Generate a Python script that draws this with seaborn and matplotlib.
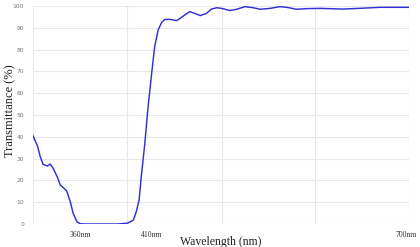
import numpy as np
import pandas as pd
import matplotlib
matplotlib.use("Agg")
import matplotlib.pyplot as plt
import seaborn as sns

# ---- data ----
wavelength_nm = [327, 330, 332, 334, 337, 339, 341, 344, 346, 348, 350.5, 353, 355,
                 357.5, 360, 364, 374, 386, 393, 397, 399, 401, 402.5, 405, 407,
                 409.5, 413, 417, 421, 424.5, 430, 438, 442, 445.7, 453, 459, 465,
                 472, 478, 484, 489.6, 499, 506.7, 516, 525.7, 533.3, 544.7, 556,
                 563.8, 575, 586.6, 601.8, 628, 650.8, 670.2, 703.3]
transmittance = [40.5, 36.0, 31.0, 27.4, 26.6, 27.5, 25.6, 21.5, 17.9, 16.7, 15.2, 10.2, 4.9,
                 1.1, 0.1, 0.0, 0.0, 0.0, 0.4, 1.8, 5.6, 11.0, 21.7, 37.0, 52.0,
                 67.5, 81.3, 89.0, 92.5, 93.8, 93.9, 93.3, 94.3, 95.4, 97.4, 96.6, 95.6,
                 96.6, 98.6, 99.2, 98.9, 97.9, 98.5, 99.7, 99.2, 98.5, 98.9, 99.7,
                 99.4, 98.5, 98.8, 98.9, 98.6, 99.0, 99.4, 99.4]
tick_values = [360, 410, 700]
tick_labels = ["360nm", "410nm", "700nm"]
y_ticks = list(range(0, 101, 10))

df = pd.DataFrame({"Wavelength": wavelength_nm, "Transmittance": transmittance})

# piecewise-linear wavelength axis as in the reference
def _fwd(x):
    x = np.asarray(x, dtype=float)
    lo = (x - 327.0) * (119.0 / 83.0)
    hi = 119.0 + (x - 410.0) * (254.0 / 290.0)
    return np.where(x <= 410.0, lo, hi)

def _inv(p):
    p = np.asarray(p, dtype=float)
    lo = 327.0 + p * (83.0 / 119.0)
    hi = 410.0 + (p - 119.0) * (290.0 / 254.0)
    return np.where(p <= 119.0, lo, hi)

sns.set_style("white")
plt.rcParams["font.family"] = ["DejaVu Sans"]

fig = plt.figure(figsize=(4.2, 2.47), dpi=100)
ax = fig.add_axes([33 / 420, 23 / 247, 376 / 420, 218 / 247])
ax.set_xscale("function", functions=(_fwd, _inv))

sns.lineplot(data=df, x="Wavelength", y="Transmittance", ax=ax,
             color="#3030d6", linewidth=1.05, zorder=3)

ax.set_xlim(327, 703.4)
ax.set_ylim(0, 100)

grid_c = "#e8e8e8"
# y axis
ax.set_yticks(y_ticks)
ax.set_yticklabels([str(v) for v in y_ticks], fontsize=4.3, color="#777777",
                   family="DejaVu Sans")
ax.tick_params(axis="y", which="major", length=5, width=0.8, color=grid_c, pad=1.5)
ax.yaxis.grid(True, color=grid_c, linewidth=0.8)

# x axis: labels at major ticks, grid at minor ticks
ax.set_xticks(tick_values)
ax.set_xticklabels(tick_labels, fontsize=5.5, color="#333333", family="Liberation Serif")
ax.tick_params(axis="x", which="major", length=0, pad=5)
grid_x = [327, 392.6, 489.9, 596.1, 703.3]
ax.set_xticks(grid_x, minor=True)
ax.tick_params(axis="x", which="minor", length=3, width=0.8, color=grid_c)
ax.xaxis.grid(True, which="minor", color=grid_c, linewidth=0.8)
ax.xaxis.grid(False, which="major")

for s in ax.spines.values():
    s.set_visible(False)

ax.set_xlabel("Wavelength (nm)", fontsize=8.5, family="Liberation Serif", color="#222222")
ax.set_ylabel("Transmittance (%)", fontsize=9, family="Liberation Serif", color="#222222")
ax.xaxis.set_label_coords(0.5, -0.081)
ax.yaxis.set_label_coords(-0.061, 0.52)
ax.xaxis.label.set_va("center")
ax.yaxis.label.set_va("center")

fig.savefig("out.png", dpi=100)
